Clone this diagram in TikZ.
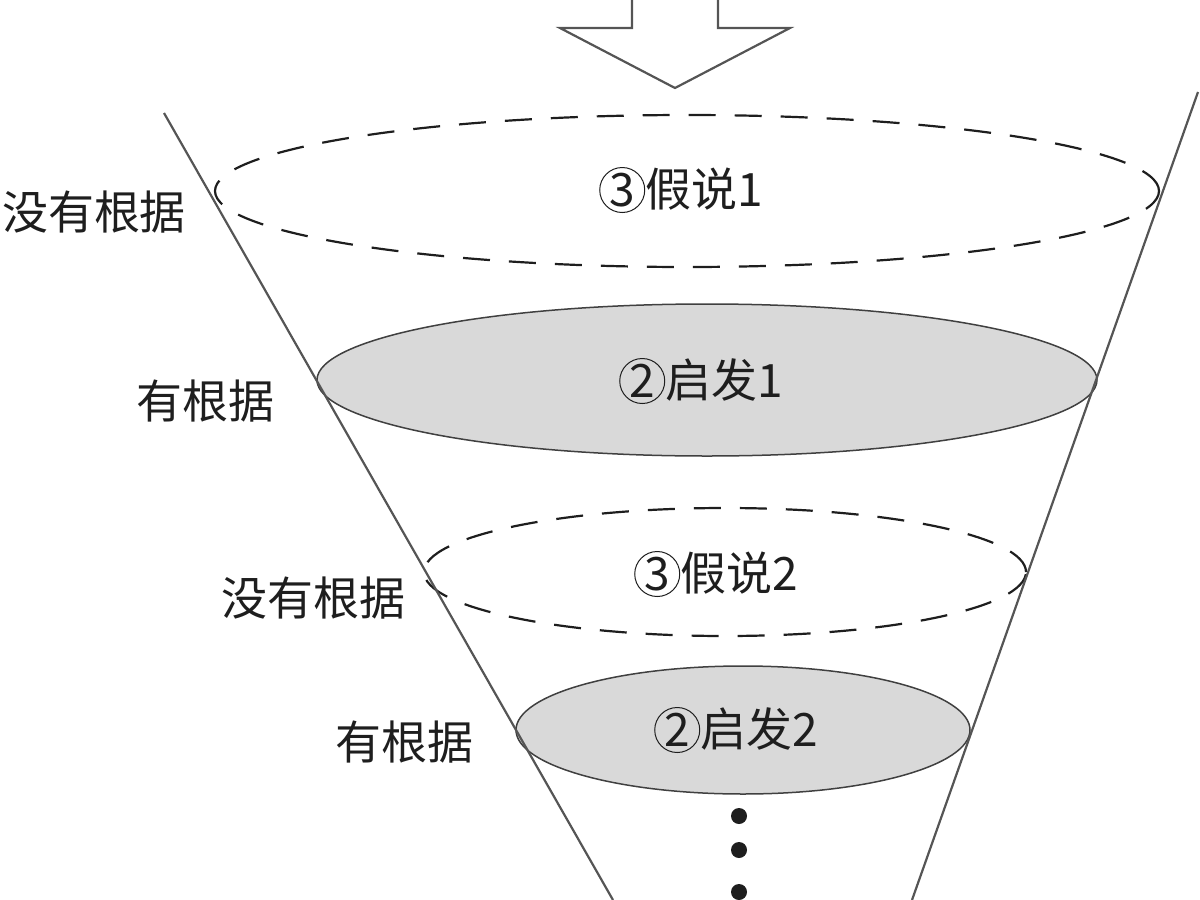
\documentclass[tikz,border=0pt]{standalone}
\usepackage{fontspec}
\setmainfont{Noto Sans CJK SC}
\usetikzlibrary{shapes.geometric}
\definecolor{inkgray}{HTML}{1E1E1E}
\definecolor{linegray}{HTML}{555555}
\definecolor{fillgray}{HTML}{D9D9D9}
\tikzset{
	guess/.style={ellipse, draw=inkgray, line width=2.2pt, dash pattern=on 27pt off 19pt, inner sep=0pt, text=inkgray, font=\fontsize{46}{52}\selectfont},
	hint/.style={ellipse, draw=inkgray!85, fill=fillgray, line width=1.5pt, inner sep=0pt, text=inkgray, font=\fontsize{46}{52}\selectfont},
	lab/.style={text=inkgray, inner sep=0pt, font=\fontsize{46}{52}\selectfont},
	side/.style={draw=linegray, line width=2.2pt},
}
% circled number, as large as the characters beside it
\newcommand{\cnum}[1]{\tikz[baseline=(c.base)]\node[circle, solid, draw=inkgray, line width=1pt, inner sep=0pt, minimum size=45pt, outer sep=0pt] (c) {#1};}

\begin{document}
\begin{tikzpicture}[x=1pt,y=-1pt]
	\useasboundingbox (0,0) rectangle (1200,900);
	
	%hollow arrow at the top
	\draw[side, line join=miter] (632,0) -- (632,28) -- (560,28) -- (675,88) -- (790,28) -- (718,28) -- (718,0);
	
	%layers of the funnel
	\node[guess, minimum width=944pt, minimum height=152pt] (hyp1) at (687,191) {};
	\node[hint, minimum width=780pt, minimum height=152pt] (heur1) at (707,380) {};
	\node[guess, minimum width=602pt, minimum height=128pt] (hyp2) at (725,572) {};
	\node[hint, minimum width=454pt, minimum height=128pt] (heur2) at (743,730) {};
	
	%texts of the layers
	\node[lab] (hyp1txt) at (681,190) {\cnum{3}假说1};
	\node[lab] (heur1txt) at (701,381) {\cnum{2}启发1};
	\node[lab] (hyp2txt) at (716,574) {\cnum{3}假说2};
	\node[lab] (heur2txt) at (736,730) {\cnum{2}启发2};
	
	%labels on the left
	\node[lab] (nobase1) at (94,212) {没有根据};
	\node[lab] (base1) at (205,401) {有根据};
	\node[lab] (nobase2) at (313,598) {没有根据};
	\node[lab] (base2) at (404,742) {有根据};
	
	%funnel sides
	\coordinate (ltop) at (164,113);
	\coordinate (lbot) at (613,900);
	\coordinate (rtop) at (1198,92);
	\coordinate (rbot) at (912,900);
	\draw[side] (ltop) -- (lbot);
	\draw[side] (rtop) -- (rbot);
	
	%dots
	\foreach \y/\n in {816/a,850/b,892/c}
		\fill[inkgray] (739,\y) circle (8pt) coordinate (dot\n);
	
\end{tikzpicture}
\end{document}
